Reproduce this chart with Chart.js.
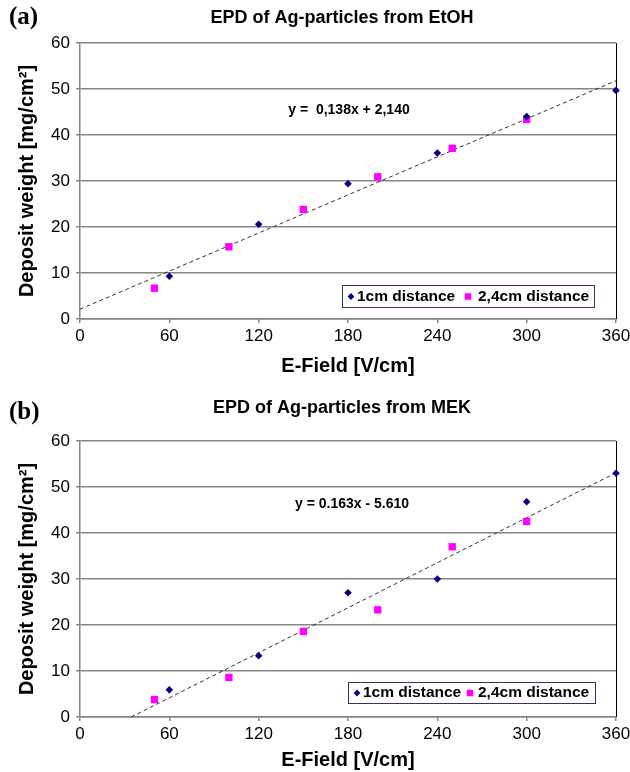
<!DOCTYPE html>
<html>
<head>
<meta charset="utf-8">
<script src="https://cdn.jsdelivr.net/npm/chart.js@4/dist/chart.umd.min.js"></script>
<style>
  html, body { margin: 0; padding: 0; background: #fff; }
  .panel { position: relative; width: 630px; height: 386px; }
</style>
</head>
<body>
<div class="panel"><canvas id="chartA"></canvas></div>
<div class="panel"><canvas id="chartB"></canvas></div>
<script>
// ---------- data ----------
const fieldTicks = [0, 60, 120, 180, 240, 300, 360];
const weightTicks = [0, 10, 20, 30, 40, 50, 60];

// (a) EtOH
const fieldA1 = [60, 120, 180, 240, 300, 360];
const weightA1 = [9.3, 20.6, 29.4, 36.1, 44.0, 49.7];
const fieldA2 = [50, 100, 150, 200, 250, 300];
const weightA2 = [6.7, 15.7, 23.8, 30.9, 37.1, 43.4];
const trendFieldA = [0, 360];
const trendWeightA = [2.14, 51.8];

// (b) MEK
const fieldB1 = [60, 120, 180, 240, 300, 360];
const weightB1 = [5.9, 13.3, 27.0, 30.0, 46.8, 53.0];
const fieldB2 = [50, 100, 150, 200, 250, 300];
const weightB2 = [3.8, 8.6, 18.6, 23.3, 37.0, 42.5];
const trendFieldB = [34.4, 360];
const trendWeightB = [0, 53.1];

const seriesNames = ['1cm distance', '2,4cm distance'];

// ---------- helpers ----------
const GRID = '#858585';
const SANS = "'Liberation Sans', Arial, sans-serif";

function pts(xs, ys) {
  return xs.map((x, i) => ({ x: x, y: ys[i] }));
}

// draws panel letter, title, equation, legend box and the right frame line
const decorPlugin = {
  id: 'decor',
  beforeDatasetsDraw(chart) {
    // right frame, under the markers
    const ctx = chart.ctx;
    const area = chart.chartArea;
    ctx.save();
    ctx.strokeStyle = '#000';
    ctx.lineWidth = 1;
    ctx.beginPath();
    ctx.moveTo(area.right + 0.5, area.top);
    ctx.lineTo(area.right + 0.5, area.bottom);
    ctx.stroke();
    ctx.restore();
  },
  afterDraw(chart, args, o) {
    const ctx = chart.ctx;
    const area = chart.chartArea;
    ctx.save();

    ctx.fillStyle = '#000';
    ctx.textBaseline = 'middle';

    // (a) / (b)
    ctx.font = "bold 25px 'Liberation Serif', 'Times New Roman', serif";
    ctx.textAlign = 'left';
    ctx.fillText(o.letter, 9, o.letterY);

    // title
    ctx.font = 'bold 18px ' + SANS;
    ctx.textAlign = 'center';
    ctx.fillText(o.title, (area.left + area.right) / 2 - 6, o.titleY);

    // trend equation
    ctx.font = 'bold 14px ' + SANS;
    ctx.fillText(o.equation, o.eqX, o.eqY);

    // legend box
    const lg = o.legend;
    ctx.fillStyle = '#fff';
    ctx.fillRect(lg.x, lg.y, lg.w, lg.h);
    ctx.strokeStyle = '#2a3a5c';
    ctx.lineWidth = 1;
    ctx.strokeRect(lg.x + 0.5, lg.y + 0.5, lg.w, lg.h);

    ctx.font = 'bold 15.5px ' + SANS;
    ctx.textAlign = 'left';
    const cy = lg.y + lg.h / 2 + 0.5;
    lg.items.forEach((it, i) => {
      const ds = chart.data.datasets[i];
      ctx.fillStyle = ds.backgroundColor;
      ctx.strokeStyle = ds.borderColor;
      Chart.helpers.drawPoint(ctx, {
        pointStyle: ds.pointStyle,
        radius: i === 0 ? 3.4 : 4.6,
        rotation: 0,
        borderWidth: 0
      }, lg.x + it.marker, cy);
      ctx.fillStyle = '#000';
      ctx.fillText(ds.label, lg.x + it.text, cy);
    });

    ctx.restore();
  }
};

function makeChart(id, sets, deco, geom) {
  return new Chart(document.getElementById(id), {
    type: 'scatter',
    data: {
      datasets: [
        {
          label: seriesNames[0],
          data: pts(sets.x1, sets.y1),
          pointStyle: 'rectRot',
          pointRadius: 3.8,
          backgroundColor: '#000080',
          borderColor: '#000080',
          borderWidth: 0,
          clip: false,
          order: 1
        },
        {
          label: seriesNames[1],
          data: pts(sets.x2, sets.y2),
          pointStyle: 'rect',
          pointRadius: 5.2,
          backgroundColor: '#ff00ff',
          borderColor: '#ff00ff',
          borderWidth: 0,
          clip: false,
          order: 2
        },
        {
          label: 'trend',
          data: pts(sets.tx, sets.ty),
          showLine: true,
          pointRadius: 0,
          borderColor: '#333',
          borderWidth: 1,
          borderDash: [4, 3],
          order: 3
        }
      ]
    },
    options: {
      responsive: true,
      maintainAspectRatio: false,
      animation: false,
      layout: { padding: { left: 0, right: 14, top: geom.top, bottom: 0 } },
      plugins: {
        legend: { display: false },
        tooltip: { enabled: false },
        title: { display: false },
        decor: deco
      },
      scales: {
        x: {
          type: 'linear',
          min: fieldTicks[0],
          max: fieldTicks[fieldTicks.length - 1],
          afterBuildTicks: (s) => { s.ticks = fieldTicks.map((v) => ({ value: v })); },
          afterFit: (s) => {
            s.height = geom.xHeight;
            s.paddingLeft = 0;
            s.paddingRight = 0;
          },
          ticks: { color: '#000', font: { family: SANS, size: 17 }, padding: 3, maxRotation: 0 },
          grid: { drawOnChartArea: false, drawTicks: true, tickLength: 4, color: GRID, lineWidth: 1.5 },
          border: { display: true, color: GRID, width: 1.5 },
          title: {
            display: true,
            text: 'E-Field [V/cm]',
            color: '#000',
            font: { family: SANS, size: 20, weight: 'bold' },
            padding: { top: 0, bottom: geom.xTitlePad }
          }
        },
        y: {
          type: 'linear',
          min: weightTicks[0],
          max: weightTicks[weightTicks.length - 1],
          afterBuildTicks: (s) => { s.ticks = weightTicks.map((v) => ({ value: v })); },
          afterFit: (s) => { s.width = 80; },
          ticks: { color: '#000', font: { family: SANS, size: 17 }, padding: 6 },
          grid: { color: GRID, lineWidth: 1.5, drawTicks: true, tickLength: 4 },
          border: { display: true, color: GRID, width: 1.5 },
          title: {
            display: true,
            text: 'Deposit weight [mg/cm²]',
            color: '#000',
            font: { family: SANS, size: 20, weight: 'bold' },
            padding: { top: 15, bottom: 0 }
          }
        }
      }
    },
    plugins: [decorPlugin]
  });
}

makeChart('chartA',
  { x1: fieldA1, y1: weightA1, x2: fieldA2, y2: weightA2, tx: trendFieldA, ty: trendWeightA },
  {
    letter: '(a)', letterY: 18,
    title: 'EPD of Ag-particles from EtOH', titleY: 18,
    equation: 'y =  0,138x + 2,140', eqX: 349, eqY: 110,
    legend: { x: 342, y: 285, w: 252, h: 22,
      items: [{ marker: 9, text: 15 }, { marker: 126, text: 136 }] }
  },
  { top: 43, xHeight: 67, xTitlePad: 8 }
);

makeChart('chartB',
  { x1: fieldB1, y1: weightB1, x2: fieldB2, y2: weightB2, tx: trendFieldB, ty: trendWeightB },
  {
    letter: '(b)', letterY: 27,
    title: 'EPD of Ag-particles from MEK', titleY: 22,
    equation: 'y = 0.163x - 5.610', eqX: 352, eqY: 118,
    legend: { x: 348, y: 296, w: 247, h: 21,
      items: [{ marker: 9, text: 15 }, { marker: 122, text: 130 }] }
  },
  { top: 55, xHeight: 55, xTitlePad: 0 }
);
</script>
</body>
</html>
